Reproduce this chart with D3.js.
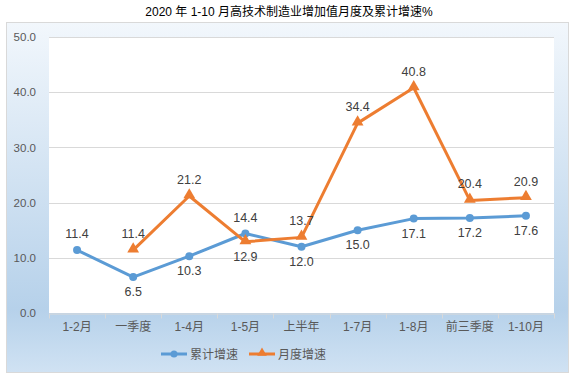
<!DOCTYPE html>
<html><head><meta charset="utf-8">
<script src="https://cdn.jsdelivr.net/npm/d3@7"></script>
<style>body{margin:0;background:#fff;}svg{display:block;}</style>
</head><body>
<script>
const categories = ["1-2月","一季度","1-4月","1-5月","上半年","1-7月","1-8月","前三季度","1-10月"];
const cumulative = [11.4, 6.5, 10.3, 14.4, 12.0, 15.0, 17.1, 17.2, 17.6];
const monthly = [null, 11.4, 21.2, 12.9, 13.7, 34.4, 40.8, 20.4, 20.9];
const cumulativeLabelPos = ["above","below","below","above","below","below","below","below","below"];
const monthlyLabelPos = [null,"above","above","below","above","above","above","above","above"];
const yTicks = [0,10,20,30,40,50];
const seriesNames = ["累计增速","月度增速"];
const title = "2020 年 1-10 月高技术制造业增加值月度及累计增速%";

const W = 578, H = 381;
const svg = d3.select("body").append("svg").attr("width", W).attr("height", H);
const font = "'Liberation Sans', 'Noto Sans CJK SC', sans-serif";

const defs = svg.append("defs");
const grad = defs.append("linearGradient").attr("id","bg").attr("x1",0).attr("y1",0).attr("x2",0).attr("y2",1);
grad.append("stop").attr("offset","0%").attr("stop-color","#f2f7fc");
grad.append("stop").attr("offset","82%").attr("stop-color","#b6d1ea");
grad.append("stop").attr("offset","100%").attr("stop-color","#d0e2f3");

svg.append("text").attr("x", 289).attr("y", 16).attr("text-anchor","middle")
  .attr("font-family", font).attr("font-size", 12).attr("fill","#000").text(title);

svg.append("rect").attr("x",6.5).attr("y",22.5).attr("width",562).attr("height",350)
  .attr("fill","url(#bg)").attr("stroke","#d9d9d9");

const m = {l:49, r:554, t:37, b:313};
svg.append("rect").attr("x",m.l).attr("y",m.t).attr("width",m.r-m.l).attr("height",m.b-m.t).attr("fill","#fff");

const x = d3.scaleBand().domain(categories).range([m.l, m.r]);
const y = d3.scaleLinear().domain([0,50]).range([m.b, m.t]);
const cx = c => x(c) + x.bandwidth()/2;

svg.append("g").selectAll("line").data(yTicks.filter(t=>t>0)).join("line")
  .attr("x1",m.l).attr("x2",m.r).attr("y1",d=>Math.round(y(d))+0.5).attr("y2",d=>Math.round(y(d))+0.5)
  .attr("stroke","#d9d9d9").attr("stroke-width",1);

const yAxis = d3.axisLeft(y).tickValues(yTicks).tickFormat(d3.format(".1f")).tickSize(0).tickPadding(13);
const gy = svg.append("g").attr("transform",`translate(${m.l},0)`).call(yAxis);
gy.select(".domain").remove();
gy.selectAll("text").attr("font-family",font).attr("font-size",11.5).attr("fill","#595959");

const xAxis = d3.axisBottom(x).tickSize(0).tickPadding(9);
const gx = svg.append("g").attr("transform",`translate(0,${Math.round(m.b)+0.5})`).call(xAxis);
gx.select(".domain").attr("stroke","#d9d9d9");
gx.selectAll("text").attr("font-family",font).attr("font-size",12).attr("fill","#595959");
const bounds = categories.map(c => x(c)).concat([m.r]);
gx.append("g").selectAll("line").data(bounds).join("line")
  .attr("x1",d=>Math.round(d)+0.5).attr("x2",d=>Math.round(d)+0.5).attr("y1",0).attr("y2",5)
  .attr("stroke","#d9d9d9");

const blue = "#5b9bd5", orange = "#ed7d31";
const line = d3.line().defined(d=>d.v!=null).x(d=>cx(d.c)).y(d=>y(d.v));
const cumData = categories.map((c,i)=>({c, v:cumulative[i], p:cumulativeLabelPos[i]}));
const monData = categories.map((c,i)=>({c, v:monthly[i], p:monthlyLabelPos[i]}));

svg.append("path").datum(cumData).attr("d",line).attr("fill","none").attr("stroke",blue)
  .attr("stroke-width",3).attr("stroke-linejoin","round").attr("stroke-linecap","round");
svg.append("path").datum(monData).attr("d",line).attr("fill","none").attr("stroke",orange)
  .attr("stroke-width",3).attr("stroke-linejoin","round").attr("stroke-linecap","round");

svg.append("g").selectAll("circle").data(cumData).join("circle")
  .attr("cx",d=>cx(d.c)).attr("cy",d=>y(d.v)).attr("r",4).attr("fill",blue);
const tri = d3.symbol().type(d3.symbolTriangle).size(60);
svg.append("g").selectAll("path").data(monData.filter(d=>d.v!=null)).join("path")
  .attr("d",tri).attr("transform",d=>`translate(${cx(d.c)},${y(d.v)-1})`).attr("fill",orange);

function labels(data){
  svg.append("g").selectAll("text").data(data.filter(d=>d.v!=null)).join("text")
    .attr("x",d=>cx(d.c)).attr("y",d=>d.p==="above" ? y(d.v)-12 : y(d.v)+19)
    .attr("text-anchor","middle").attr("font-family",font).attr("font-size",12.5).attr("fill","#404040")
    .text(d=>d3.format(".1f")(d.v));
}
labels(cumData); labels(monData);

const lg = svg.append("g");
const ly = 354;
lg.append("line").attr("x1",161).attr("x2",187).attr("y1",ly).attr("y2",ly).attr("stroke",blue).attr("stroke-width",3);
lg.append("circle").attr("cx",174).attr("cy",ly).attr("r",3.5).attr("fill",blue);
lg.append("text").attr("x",190).attr("y",ly+4.5).attr("font-family",font).attr("font-size",12).attr("fill","#595959").text(seriesNames[0]);
lg.append("line").attr("x1",249).attr("x2",275).attr("y1",ly).attr("y2",ly).attr("stroke",orange).attr("stroke-width",3);
lg.append("path").attr("d",d3.symbol().type(d3.symbolTriangle).size(40)).attr("transform",`translate(262,${ly-1})`).attr("fill",orange);
lg.append("text").attr("x",278).attr("y",ly+4.5).attr("font-family",font).attr("font-size",12).attr("fill","#595959").text(seriesNames[1]);
</script>
</body></html>
